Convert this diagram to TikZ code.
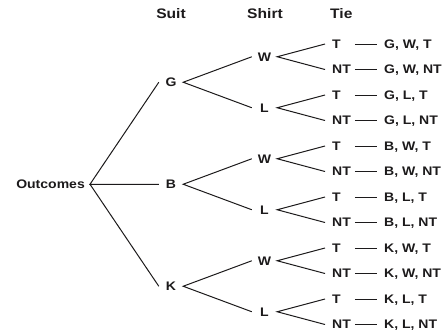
\documentclass[tikz,border=0pt]{standalone}
\usepackage{fontspec}
\setmainfont[FakeStretch=1.13]{Liberation Sans}
\usepackage{xcolor}
\usepackage{tikz}
\definecolor{ink}{HTML}{1C1A1B}

\begin{document}
\begin{tikzpicture}[x=1pt, y=1pt,
  font=\bfseries\fontsize{12.4}{14}\selectfont, text=ink,
  lbl/.style={inner sep=0pt, text height=8.9pt, text depth=0pt},
  head/.style={lbl, font=\bfseries\fontsize{13.8}{16}\selectfont, text height=9.9pt},
  suit/.style={lbl, minimum width=24pt},
  shirt/.style={lbl, minimum width=25pt},
  tie/.style={lbl, anchor=west, inner xsep=7pt, text width=15.5pt, align=left},
  res/.style={lbl, anchor=west, inner xsep=7pt},
  br/.style={draw=ink, line width=1pt}]
\useasboundingbox (0,0) rectangle (447,-335);
% column heads
\node[head] (hsuit)  at (171,-14) {Suit};
\node[head] (hshirt) at (265,-14) {Shirt};
\node[head, anchor=west] (htie) at (330,-14) {Tie};
% root and suits
\node[lbl, anchor=east, inner xsep=5pt] (root) at (90,-184.25) {Outcomes};
\node[suit] (g) at (171,-82.25)  {G};
\node[suit] (b) at (171,-184.25) {B};
\node[suit] (k) at (171,-286.25) {K};
% shirts
\node[shirt] (gw) at (264.5,-56.75)  {W};
\node[shirt] (gl) at (264.5,-107.75) {L};
\node[shirt] (bw) at (264.5,-158.75) {W};
\node[shirt] (bl) at (264.5,-209.75) {L};
\node[shirt] (kw) at (264.5,-260.75) {W};
\node[shirt] (kl) at (264.5,-311.75) {L};
% ties
\node[tie] (gwt) at (325,-44)    {T};
\node[tie] (gwn) at (325,-69.5)  {NT};
\node[tie] (glt) at (325,-95)    {T};
\node[tie] (gln) at (325,-120.5) {NT};
\node[tie] (bwt) at (325,-146)   {T};
\node[tie] (bwn) at (325,-171.5) {NT};
\node[tie] (blt) at (325,-197)   {T};
\node[tie] (bln) at (325,-222.5) {NT};
\node[tie] (kwt) at (325,-248)   {T};
\node[tie] (kwn) at (325,-273.5) {NT};
\node[tie] (klt) at (325,-299)   {T};
\node[tie] (kln) at (325,-324.5) {NT};
% outcomes
\node[res] (rgwt) at (377,-44)    {G, W, T};
\node[res] (rgwn) at (377,-69.5)  {G, W, NT};
\node[res] (rglt) at (377,-95)    {G, L, T};
\node[res] (rgln) at (377,-120.5) {G, L, NT};
\node[res] (rbwt) at (377,-146)   {B, W, T};
\node[res] (rbwn) at (377,-171.5) {B, W, NT};
\node[res] (rblt) at (377,-197)   {B, L, T};
\node[res] (rbln) at (377,-222.5) {B, L, NT};
\node[res] (rkwt) at (377,-248)   {K, W, T};
\node[res] (rkwn) at (377,-273.5) {K, W, NT};
\node[res] (rklt) at (377,-299)   {K, L, T};
\node[res] (rkln) at (377,-324.5) {K, L, NT};
% branches
\draw[br] (g.west) -- (root.east) -- (b.west) (root.east) -- (k.west);
\draw[br] (gw.west) -- (g.east) -- (gl.west);
\draw[br] (bw.west) -- (b.east) -- (bl.west);
\draw[br] (kw.west) -- (k.east) -- (kl.west);
\draw[br] (gwt.west) -- (gw.east) -- (gwn.west);
\draw[br] (glt.west) -- (gl.east) -- (gln.west);
\draw[br] (bwt.west) -- (bw.east) -- (bwn.west);
\draw[br] (blt.west) -- (bl.east) -- (bln.west);
\draw[br] (kwt.west) -- (kw.east) -- (kwn.west);
\draw[br] (klt.west) -- (kl.east) -- (kln.west);
% dashes to the outcomes
\draw[br] (gwt.east) -- (rgwt.west); \draw[br] (gwn.east) -- (rgwn.west);
\draw[br] (glt.east) -- (rglt.west); \draw[br] (gln.east) -- (rgln.west);
\draw[br] (bwt.east) -- (rbwt.west); \draw[br] (bwn.east) -- (rbwn.west);
\draw[br] (blt.east) -- (rblt.west); \draw[br] (bln.east) -- (rbln.west);
\draw[br] (kwt.east) -- (rkwt.west); \draw[br] (kwn.east) -- (rkwn.west);
\draw[br] (klt.east) -- (rklt.west); \draw[br] (kln.east) -- (rkln.west);
\end{tikzpicture}
\end{document}
